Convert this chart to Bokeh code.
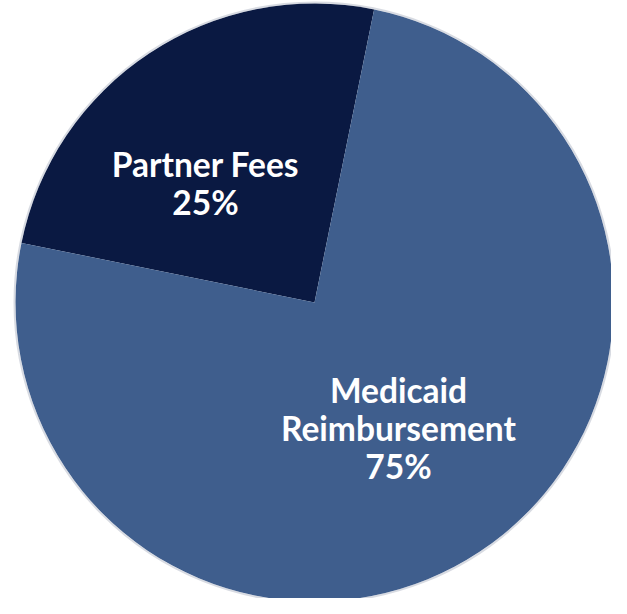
import math
from bokeh.plotting import figure
from bokeh.models import ColumnDataSource, Range1d
from bokeh.core.properties import value
from bokeh.embed import file_html
from bokeh.resources import INLINE

# ---- data ----
categories = ["Partner Fees", "Medicaid Reimbursement"]
shares = [25, 75]
colors = ["#0a1942", "#3f5e8d"]
label_lines = [["Partner Fees"], ["Medicaid", "Reimbursement"]]

# ---- layout ----
W, H = 611, 598
cx, cy_top, R = 314, 302, 299
cy = H - cy_top
start_offset_deg = 78.5
# label anchor (center x, first line y measured from top)
label_pos = [(205, 163), (398, 389)]
line_gap = 38

p = figure(width=W, height=H, output_backend="svg", toolbar_location=None,
           x_range=Range1d(0, W), y_range=Range1d(0, H), min_border=0)
p.axis.visible = False
p.grid.visible = False
p.outline_line_color = None
p.background_fill_color = "white"
p.border_fill_color = "white"

total = sum(shares)
starts, ends = [], []
acc = math.radians(start_offset_deg)
for s in shares:
    a = 2 * math.pi * s / total
    starts.append(acc)
    ends.append(acc + a)
    acc += a

src = ColumnDataSource(dict(x=[cx] * len(shares), y=[cy] * len(shares),
                            start=starts, end=ends, color=colors,
                            name=categories))
p.wedge(x="x", y="y", radius=R, start_angle="start", end_angle="end",
        fill_color="color", line_color=None, source=src)
p.circle(x=[cx], y=[cy], radius=R + 1, fill_color=None, line_color="#8f99ab",
         line_width=2, line_alpha=0.35)

tx, ty, tt = [], [], []
for (lx, ly), lines, s in zip(label_pos, label_lines, shares):
    allines = lines + [f"{s}%"]
    for i, t in enumerate(allines):
        tx.append(lx)
        ty.append(H - (ly + i * line_gap))
        tt.append(t)

p.text(x=tx, y=ty, text=tt, text_color="white", text_font=value("Lato"),
       text_font_style="bold", text_font_size="33.5px", text_align="center",
       text_baseline="alphabetic")

open("out.html", "w").write(file_html(p, INLINE))
